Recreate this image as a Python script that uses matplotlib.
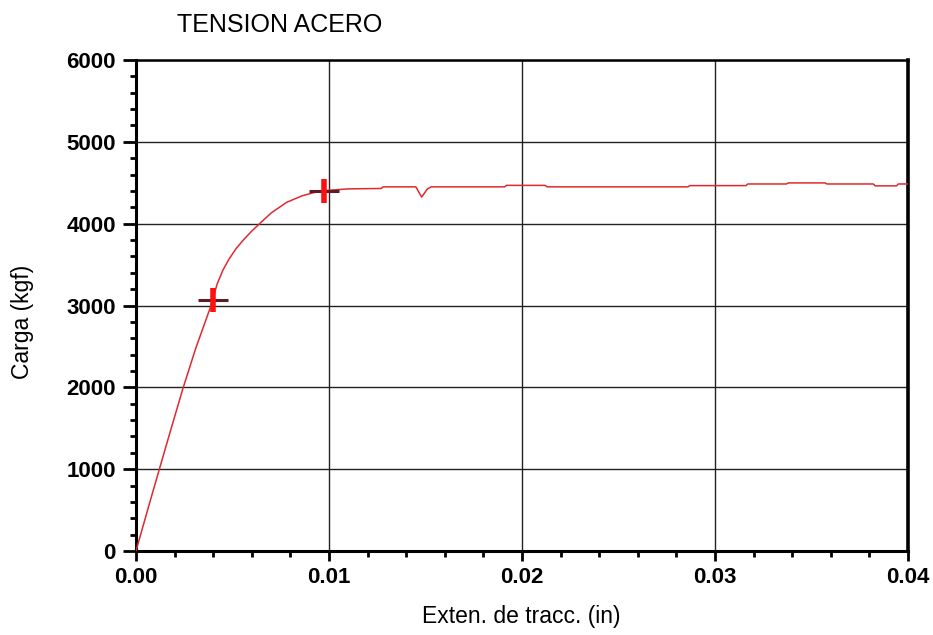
import matplotlib
matplotlib.use('Agg')
import matplotlib.pyplot as plt
from matplotlib.ticker import MultipleLocator, FormatStrFormatter

plt.rcParams['font.family'] = ['Liberation Sans', 'DejaVu Sans']

# Curve
ext = [0.0000, 0.0006, 0.00121, 0.0018, 0.00245, 0.0031, 0.00389, 0.0042,
       0.0045, 0.0048, 0.0052, 0.0056, 0.0060, 0.00636, 0.0070, 0.0078,
       0.0086, 0.0093, 0.0098, 0.0110, 0.0127, 0.0128, 0.0145, 0.0148,
       0.0151, 0.0153, 0.0191, 0.0192, 0.0212, 0.0213, 0.0286, 0.0287,
       0.0316, 0.0317, 0.0337, 0.0338, 0.0357, 0.0358, 0.0382, 0.0383,
       0.0394, 0.0395, 0.0400]
load = [0, 500, 1000, 1480, 2000, 2480, 3000, 3260,
        3430, 3560, 3700, 3810, 3910, 3990, 4130, 4260,
        4340, 4385, 4405, 4425, 4430, 4450, 4450, 4325,
        4425, 4450, 4450, 4468, 4468, 4450, 4450, 4465,
        4465, 4485, 4485, 4498, 4498, 4485, 4485, 4462,
        4462, 4485, 4485]

# Cursor marks on the curve
mark_ext = [0.0040, 0.00975]
mark_load = [3070, 4400]

fig = plt.figure(figsize=(9.33, 6.35), dpi=100)
ax = fig.add_axes([136/933, 1-551/635, (908-136)/933, (551-60)/635])

ax.plot(ext, load, color='#e0282f', lw=1.1, zorder=3)
ax.plot(mark_ext, mark_load, ls='none', marker='_', ms=22, mew=2.2,
        color='#5a1e24', zorder=4)
ax.plot(mark_ext, mark_load, ls='none', marker='|', ms=17, mew=4,
        color='#ff1010', zorder=5)

ax.set_xlim(0, 0.04)
ax.set_ylim(0, 6000)
ax.xaxis.set_major_locator(MultipleLocator(0.01))
ax.xaxis.set_minor_locator(MultipleLocator(0.002))
ax.yaxis.set_major_locator(MultipleLocator(1000))
ax.yaxis.set_minor_locator(MultipleLocator(200))
ax.xaxis.set_major_formatter(FormatStrFormatter('%.2f'))
ax.yaxis.set_major_formatter(FormatStrFormatter('%d'))

ax.grid(True, which='major', color='#222222', lw=1.0)
ax.set_axisbelow(True)

for side, w in [('left', 2.2), ('bottom', 2.2), ('right', 2.6), ('top', 1.8)]:
    ax.spines[side].set_linewidth(w)
    ax.spines[side].set_color('black')

ax.tick_params(axis='x', which='major', direction='out', length=7.5, width=2,
               pad=4, labelsize=16)
ax.tick_params(axis='x', which='minor', direction='out', length=4, width=2)
ax.tick_params(axis='y', which='major', direction='out', length=9.5, width=2,
               pad=5, labelsize=16)
ax.tick_params(axis='y', which='minor', direction='out', length=4, width=2)
for lab in ax.get_xticklabels() + ax.get_yticklabels():
    lab.set_fontweight('bold')

fig.text(177/933, 1-25/635, "TENSION ACERO", fontsize=18, ha='left', va='center')
fig.text(521/933, 1-617/635, "Exten. de tracc. (in)", fontsize=16.5,
         ha='center', va='center')
fig.text(23/933, 1-322/635, "Carga (kgf)", fontsize=16.5, rotation=90,
         ha='center', va='center')

fig.savefig('out.png', dpi=100)
